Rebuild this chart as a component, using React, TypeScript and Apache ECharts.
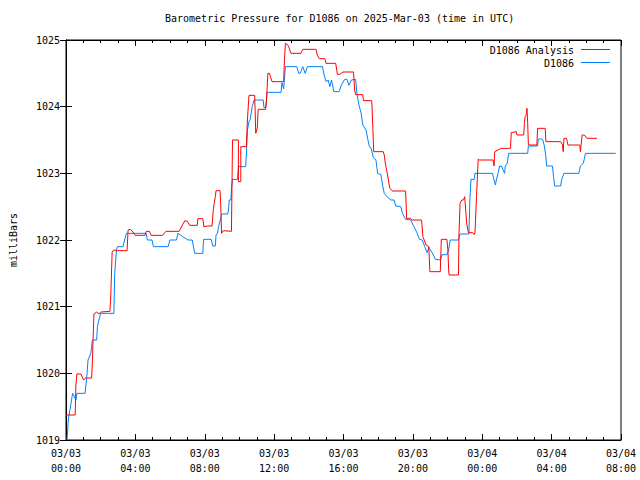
import React, { useEffect, useRef } from "react";
import * as echarts from "echarts";

// hours since 2025-03-03 00:00 UTC
const blueHours = [0.06,0.13,0.29,0.38,0.57,0.63,1.10,1.20,1.27,1.43,1.52,1.77,1.81,1.90,2.00,2.76,2.81,2.91,2.97,3.29,3.33,3.48,4.62,4.69,4.96,5.04,5.89,5.99,6.37,6.45,6.74,7.03,7.28,7.42,7.89,7.93,8.37,8.46,8.61,8.65,8.73,8.80,8.94,9.00,9.32,9.37,9.41,9.51,9.54,9.60,9.89,9.94,10.36,10.42,10.46,10.55,10.61,10.74,10.84,11.37,11.41,11.52,11.60,12.40,12.45,12.55,12.65,13.31,13.41,13.50,13.65,13.79,13.92,14.79,14.87,14.99,15.12,15.21,15.31,15.44,15.74,15.88,16.07,16.20,16.31,16.45,16.70,16.77,16.89,17.02,17.11,17.30,17.40,17.50,17.59,17.72,17.87,17.97,18.16,18.25,18.35,18.54,18.73,18.92,19.01,19.30,19.40,19.58,19.87,20.06,20.25,20.38,20.54,20.69,20.82,20.92,21.11,21.30,21.58,21.68,21.96,22.06,22.15,22.63,22.72,23.23,23.29,23.35,23.54,23.58,24.59,24.68,24.76,24.81,24.91,25.00,25.14,25.20,25.29,25.33,25.44,25.52,26.62,26.66,27.19,27.23,27.38,27.48,27.57,27.67,27.71,28.05,28.11,28.18,28.52,28.58,28.71,29.57,29.66,29.82,29.89,29.95,31.70];
const bluePressure = [1019.0,1019.3,1019.55,1019.7,1019.6,1019.7,1019.7,1019.95,1020.2,1020.3,1020.5,1020.5,1020.7,1020.8,1020.9,1020.9,1021.5,1021.85,1021.9,1021.9,1021.95,1022.1,1022.1,1022.0,1022.0,1021.9,1021.9,1022.0,1022.0,1022.1,1022.05,1022.0,1022.0,1021.8,1021.8,1022.01,1022.01,1021.91,1021.91,1022.075,1022.1,1022.2,1022.35,1022.39,1022.39,1022.45,1022.6,1022.6,1022.775,1022.91,1022.91,1023.1,1023.1,1023.4,1023.65,1023.78,1023.8,1024.0,1024.1,1024.1,1023.99,1023.99,1024.215,1024.215,1024.36,1024.27,1024.6,1024.6,1024.5,1024.5,1024.6,1024.5,1024.6,1024.6,1024.49,1024.375,1024.4,1024.3,1024.4,1024.225,1024.225,1024.325,1024.41,1024.41,1024.32,1024.4,1024.41,1024.2,1024.025,1023.9,1023.725,1023.65,1023.51,1023.4,1023.38,1023.24,1023.2,1023.0,1022.98,1022.825,1022.7,1022.64,1022.6,1022.6,1022.51,1022.5,1022.4,1022.31,1022.3,1022.2,1022.1,1022.01,1022.0,1021.9,1021.81,1021.89,1021.81,1021.71,1021.7,1021.78,1021.78,1021.85,1022.0,1022.0,1022.09,1022.09,1022.625,1022.91,1022.91,1023.0,1023.0,1022.9,1022.825,1022.9,1023.0,1023.11,1023.1,1023.05,1023.0,1023.11,1023.15,1023.3,1023.3,1023.41,1023.41,1023.51,1023.52,1023.51,1023.425,1023.25,1023.11,1023.11,1022.95,1022.81,1022.81,1022.91,1023.0,1023.0,1023.11,1023.15,1023.22,1023.3,1023.3];

const redHours = [0.00,0.53,0.57,0.63,0.86,1.01,1.14,1.48,1.52,1.58,1.61,1.77,1.90,2.00,2.53,2.57,2.61,2.66,2.76,2.97,3.52,3.58,3.71,3.86,3.99,4.56,4.62,4.81,4.91,5.57,5.76,6.52,6.85,7.00,7.13,7.57,7.60,7.89,7.95,8.17,8.42,8.50,8.61,8.65,8.88,8.92,8.97,9.07,9.54,9.57,9.60,9.94,9.94,10.08,10.08,10.40,10.46,10.55,10.88,10.94,11.03,11.08,11.51,11.56,11.64,11.73,11.88,12.55,12.59,12.65,12.78,12.84,12.97,13.54,13.65,14.42,14.49,14.60,14.93,14.99,15.55,15.65,15.78,15.97,16.58,16.64,16.70,17.11,17.15,17.63,17.69,17.74,18.29,18.35,18.41,18.54,18.67,18.83,19.58,19.64,19.87,19.93,20.50,20.58,20.76,20.92,20.98,21.58,21.64,21.96,22.02,22.06,22.09,22.63,22.66,22.72,22.82,22.92,22.99,23.10,23.20,23.45,23.54,23.58,23.67,23.73,23.77,23.84,24.63,24.68,24.72,25.10,25.63,25.67,25.96,26.00,26.39,26.43,26.47,26.53,26.58,26.62,26.66,27.15,27.19,27.63,27.67,28.52,28.62,28.67,28.71,28.86,28.94,29.62,29.66,29.76,29.89,30.04,30.61];
const redPressure = [1019.375,1019.375,1019.825,1019.99,1019.99,1019.9,1019.93,1019.93,1020.17,1020.65,1020.89,1020.92,1020.89,1020.92,1020.93,1021.08,1021.4,1021.82,1021.85,1021.84,1021.84,1022.15,1022.16,1022.12,1022.07,1022.07,1022.13,1022.13,1022.07,1022.07,1022.13,1022.13,1022.29,1022.28,1022.22,1022.22,1022.32,1022.32,1022.2,1022.21,1022.21,1022.475,1022.65,1022.74,1022.74,1022.55,1022.1,1022.14,1022.13,1022.8,1023.5,1023.5,1022.875,1022.875,1023.4,1023.4,1023.8,1024.17,1024.17,1023.6,1023.68,1023.96,1023.96,1024.1,1024.5,1024.5,1024.375,1024.375,1024.67,1024.95,1024.93,1024.9,1024.8,1024.8,1024.86,1024.86,1024.775,1024.72,1024.72,1024.65,1024.65,1024.485,1024.485,1024.52,1024.52,1024.25,1024.18,1024.18,1024.09,1024.09,1023.7,1023.325,1023.325,1023.275,1023.15,1022.975,1022.775,1022.735,1022.735,1022.325,1022.325,1022.3,1022.3,1022.05,1021.925,1021.9,1021.525,1021.525,1022.01,1022.01,1021.85,1021.56,1021.475,1021.475,1022.1,1022.55,1022.6,1022.6,1022.65,1022.25,1022.11,1022.11,1022.08,1022.11,1022.65,1023.02,1023.215,1023.2,1023.2,1023.11,1023.325,1023.375,1023.375,1023.61,1023.625,1023.575,1023.575,1023.75,1023.85,1023.875,1023.975,1023.75,1023.425,1023.425,1023.675,1023.675,1023.475,1023.475,1023.43,1023.325,1023.525,1023.525,1023.425,1023.425,1023.325,1023.575,1023.575,1023.525,1023.525];

const seriesNames = ["D1086 Analysis", "D1086"];
const seriesColors = ["#ff0000", "#0080ff"];
const titleText = "Barometric Pressure for D1086 on 2025-Mar-03 (time in UTC)";
const yAxisName = "milliBars";
const startDay = ["03/03", "03/04"];

const FONT = "'DejaVu Sans Mono', monospace";

export default function App() {
  const ref = useRef<HTMLDivElement>(null);
  useEffect(() => {
    if (!ref.current) return;
    const chart = echarts.init(ref.current, null, { renderer: "svg" });
    const fmtX = (v: number) => {
      const day = v >= 24 ? startDay[1] : startDay[0];
      const hh = Math.round(v) % 24;
      return `${day}\n${hh < 10 ? "0" + hh : hh}:00`;
    };
    const xCommon = {
      type: "value" as const,
      min: 0,
      max: 32,
      interval: 4,
      axisLine: { show: true, lineStyle: { color: "#000", width: 1 } },
      axisTick: { show: true, inside: true, length: 6, lineStyle: { color: "#000" } },
      minorTick: { show: true, splitNumber: 4, length: 3, lineStyle: { color: "#000" } },
      splitLine: { show: false },
      minorSplitLine: { show: false },
    };
    const yCommon = {
      type: "value" as const,
      min: 1019,
      max: 1025,
      interval: 1,
      axisLine: { show: true, lineStyle: { color: "#000", width: 1 } },
      axisTick: { show: true, inside: true, length: 6, lineStyle: { color: "#000" } },
      splitLine: { show: false },
    };
    chart.setOption({
      animation: false,
      backgroundColor: "#fff",
      textStyle: { fontFamily: FONT },
      title: {
        text: titleText,
        left: 165,
        top: 13,
        padding: 0,
        textStyle: { fontFamily: FONT, fontSize: 10, fontWeight: "normal", color: "#000" },
      },
      grid: { left: 60, right: 19, top: 40, bottom: 40, show: true, borderColor: "#000", borderWidth: 1, backgroundColor: "transparent" },
      xAxis: [
        {
          ...xCommon,
          position: "bottom",
          axisLabel: { show: true, formatter: fmtX, fontFamily: FONT, fontSize: 10, color: "#000", lineHeight: 15, margin: 6, showMinLabel: true, showMaxLabel: true },
        },
        {
          ...xCommon,
          position: "top",
          axisLabel: { show: false },
        },
      ],
      yAxis: [
        {
          ...yCommon,
          position: "left",
          name: yAxisName,
          nameLocation: "middle",
          nameRotate: 90,
          nameGap: 48,
          nameTextStyle: { fontFamily: FONT, fontSize: 10, color: "#000" },
          axisLabel: { show: true, formatter: (v: number) => String(v), fontFamily: FONT, fontSize: 10, color: "#000", margin: 6 },
        },
        {
          ...yCommon,
          position: "right",
          axisLabel: { show: false },
        },
      ],
      series: [
        {
          name: seriesNames[0],
          type: "line",
          showSymbol: false,
          symbol: "none",
          data: redHours.map((h, i) => [h, redPressure[i]]),
          lineStyle: { color: seriesColors[0], width: 1 },
          itemStyle: { color: seriesColors[0] },
          z: 3,
        },
        {
          name: seriesNames[1],
          type: "line",
          showSymbol: false,
          symbol: "none",
          data: blueHours.map((h, i) => [h, bluePressure[i]]),
          lineStyle: { color: seriesColors[1], width: 1 },
          itemStyle: { color: seriesColors[1] },
          z: 2,
        },
      ],
      graphic: [
        { type: "text", x: 574, y: 50, style: { text: seriesNames[0], align: "right", verticalAlign: "middle", font: `10px ${FONT}`, fill: "#000" } },
        { type: "line", shape: { x1: 581, y1: 49.5, x2: 610, y2: 49.5 }, style: { stroke: seriesColors[0], lineWidth: 1 } },
        { type: "text", x: 574, y: 63, style: { text: seriesNames[1], align: "right", verticalAlign: "middle", font: `10px ${FONT}`, fill: "#000" } },
        { type: "line", shape: { x1: 581, y1: 62.5, x2: 610, y2: 62.5 }, style: { stroke: seriesColors[1], lineWidth: 1 } },
      ],
    });
    return () => chart.dispose();
  }, []);
  return <div ref={ref} style={{ position: "absolute", left: 0, top: 0, width: 640, height: 480 }} />;
}
